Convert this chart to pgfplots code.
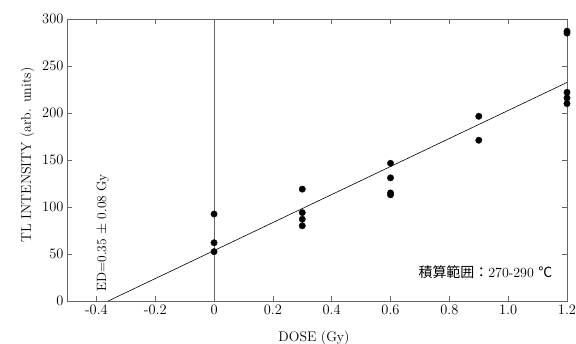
\documentclass[border=0pt]{standalone}
\usepackage{fontspec}
\newfontfamily\cjk{Noto Sans CJK JP}
\usepackage{pgfplots}
\pgfplotsset{compat=1.18}
\begin{document}
\begin{tikzpicture}
\begin{axis}[
  name=ax,
  scale only axis,
  width=500bp, height=282bp,
  xmin=-0.5, xmax=1.2, ymin=0, ymax=300,
  xtick={-0.4,-0.2,0,0.2,0.4,0.6,0.8,1.0,1.2},
  xticklabels={-0.4,-0.2,0,0.2,0.4,0.6,0.8,1.0,1.2},
  ytick={0,50,100,150,200,250,300},
  /pgf/number format/assume math mode=true,
  tick align=inside,
  major tick length=5bp,
  axis line style={black!60, line width=0.6pt},
  every tick/.style={black!60, line width=0.6pt},
  tick label style={font=\fontsize{14.5}{16}\selectfont, black},
  xlabel={DOSE (Gy)},
  ylabel={TL INTENSITY (arb. units)},
  xlabel style={font=\fontsize{14}{16}\selectfont, at={(axis description cs:0.494,-0.142)}, anchor=base},
  ylabel style={font=\fontsize{14}{16}\selectfont, at={(axis description cs:-0.072,0.518)}, anchor=base},
  clip=false,
]
\addplot[black!60, line width=0.6pt] coordinates {(0,0) (0,300)};
\addplot[black, line width=0.6pt] coordinates {(-0.36,0) (1.2,232.5)};
\addplot[only marks, mark=*, mark size=3.2pt, black] coordinates {
  (0,92.5) (0,62) (0,52.5)
  (0.3,119) (0.3,94) (0.3,87) (0.3,80)
  (0.6,146.5) (0.6,131) (0.6,115) (0.6,113)
  (0.9,196.5) (0.9,171)
  (1.2,287) (1.2,285) (1.2,222) (1.2,216) (1.2,210)
};
\node[rotate=90, anchor=base west, inner sep=0pt, font=\fontsize{13.5}{15}\selectfont] at (axis cs:-0.367,9.6) {ED=0.35 $\pm$ 0.08 Gy};
\node[anchor=base east, inner sep=0pt, font=\fontsize{14}{16}\selectfont] at (axis cs:1.151,25.5) {{\cjk 積算範囲：}270-290 {\cjk ℃}};
\end{axis}
\pgfresetboundingbox
\path ([shift={(-67bp,-43bp)}]ax.south west) rectangle ([shift={(9bp,19bp)}]ax.north east);
\end{tikzpicture}
\end{document}
